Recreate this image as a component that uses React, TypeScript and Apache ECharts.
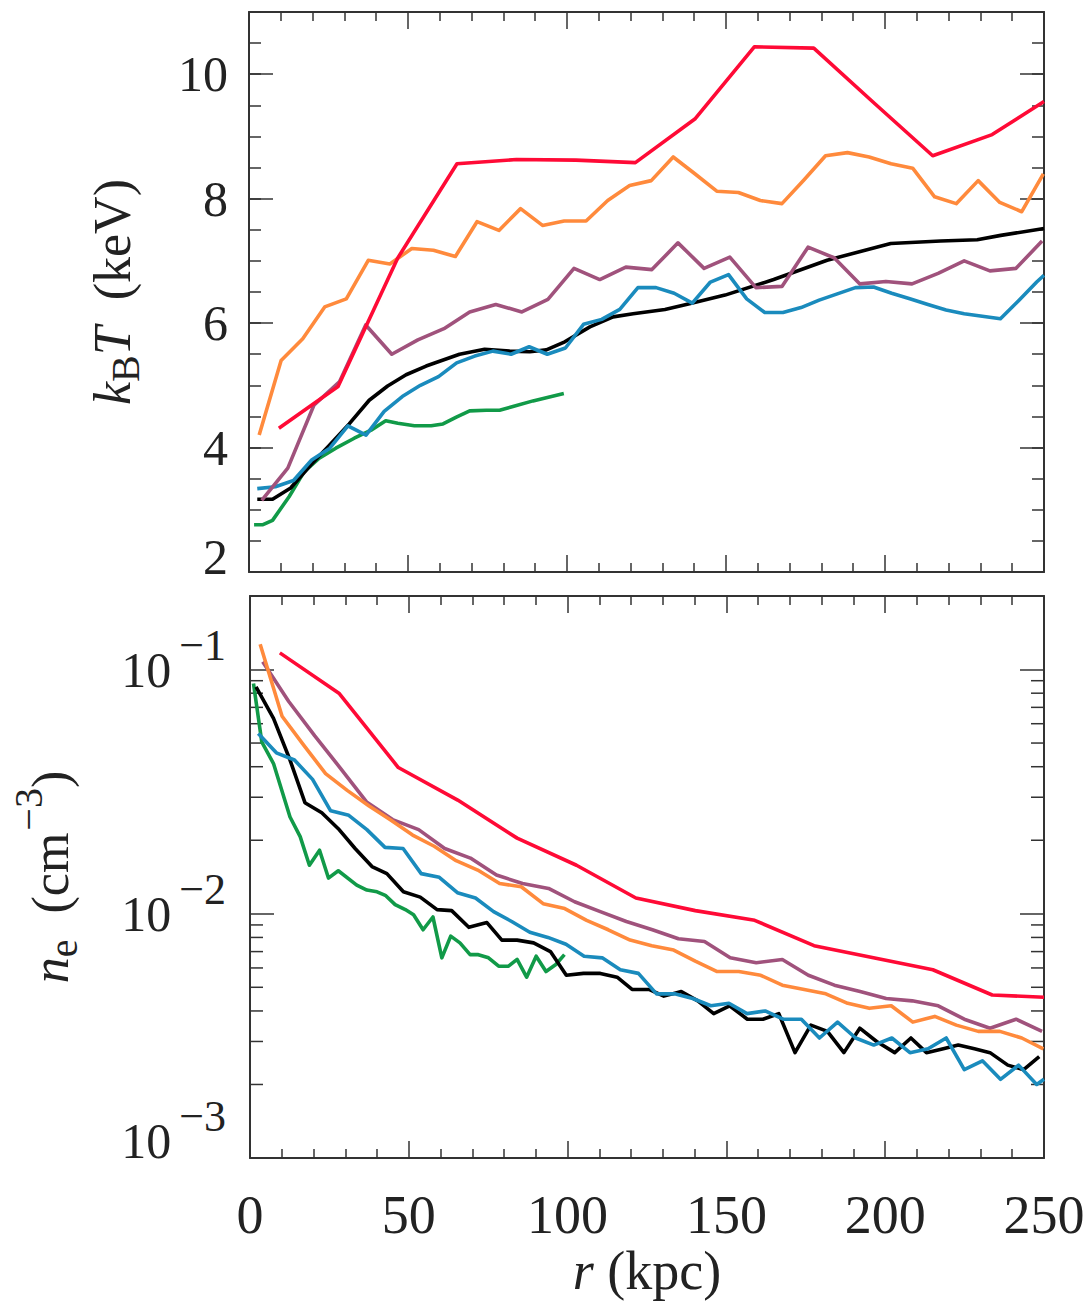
import React, { useEffect, useRef } from "react";
import * as echarts from "echarts";

// ---------- data ----------
// radius in kpc, temperature in keV, electron density in cm^-3
const redR = [9.4, 28.0, 46.7, 65.4, 84.1, 102.8, 121.5, 140.2, 158.9, 177.6, 196.3, 215.0, 233.7, 250.0];
const redT = [4.31, 4.98, 7.04, 8.56, 8.63, 8.62, 8.58, 9.28, 10.44, 10.42, 9.55, 8.69, 9.03, 9.56];
const redNe = [0.117, 0.08, 0.0397, 0.0292, 0.0204, 0.0158, 0.0116, 0.0103, 0.0094, 0.0074, 0.0066, 0.0059, 0.00465, 0.00455];

const orangeR = [3.2, 10.1, 16.9, 23.8, 30.6, 37.5, 44.3, 51.2, 58.0, 64.9, 71.7, 78.6, 85.4, 92.3, 99.1, 106.0, 112.8, 119.7, 126.5, 133.4, 140.2, 147.1, 153.9, 160.8, 167.6, 174.5, 181.3, 188.2, 195.0, 201.9, 208.7, 215.6, 222.4, 229.3, 236.1, 243.0, 249.8];
const orangeT = [4.2, 5.4, 5.75, 6.26, 6.39, 7.01, 6.95, 7.2, 7.17, 7.07, 7.63, 7.49, 7.84, 7.57, 7.64, 7.64, 7.97, 8.21, 8.29, 8.67, 8.4, 8.12, 8.1, 7.97, 7.92, 8.3, 8.69, 8.74, 8.67, 8.56, 8.49, 8.03, 7.92, 8.29, 7.94, 7.79, 8.4];
const orangeNe = [0.127, 0.0644, 0.049, 0.0375, 0.032, 0.0276, 0.0242, 0.021, 0.0189, 0.0165, 0.0151, 0.0133, 0.0129, 0.011, 0.0105, 0.0094, 0.0086, 0.0078, 0.0074, 0.0071, 0.0064, 0.0058, 0.0058, 0.0056, 0.0051, 0.0049, 0.0047, 0.0043, 0.0041, 0.0042, 0.0036, 0.0038, 0.0035, 0.0033, 0.0033, 0.0031, 0.0028];

const purpleR = [4.0, 12.2, 20.4, 28.5, 36.7, 44.9, 53.1, 61.3, 69.4, 77.6, 85.8, 94.0, 102.2, 110.3, 118.5, 126.7, 134.9, 143.1, 151.2, 159.4, 167.6, 175.8, 184.0, 192.1, 200.3, 208.5, 216.7, 224.9, 233.0, 241.2, 249.4];
const purpleT = [3.15, 3.67, 4.68, 5.06, 5.97, 5.5, 5.73, 5.91, 6.18, 6.3, 6.18, 6.38, 6.88, 6.7, 6.9, 6.86, 7.29, 6.88, 7.06, 6.57, 6.59, 7.22, 7.05, 6.63, 6.67, 6.63, 6.8, 7.0, 6.84, 6.88, 7.32];
const purpleNe = [0.1075, 0.074, 0.0535, 0.0394, 0.0287, 0.0243, 0.0221, 0.0185, 0.0169, 0.0144, 0.0133, 0.0127, 0.0112, 0.0102, 0.0093, 0.0086, 0.0079, 0.0077, 0.0066, 0.0063, 0.0065, 0.0056, 0.0051, 0.0048, 0.0045, 0.0044, 0.0042, 0.0037, 0.0034, 0.0037, 0.0033];

const blueR = [2.6, 8.3, 14.0, 19.7, 25.4, 31.1, 36.8, 42.5, 48.2, 53.9, 59.6, 65.3, 71.0, 76.7, 82.4, 88.1, 93.8, 99.5, 105.2, 110.9, 116.6, 122.3, 128.0, 133.7, 139.4, 145.1, 150.8, 156.5, 162.2, 167.9, 173.6, 179.3, 185.0, 190.7, 196.4, 202.1, 207.8, 213.5, 219.2, 224.9, 230.6, 236.3, 242.0, 247.7, 250.0];
const blueT = [3.34, 3.37, 3.47, 3.8, 3.99, 4.35, 4.2, 4.58, 4.82, 5.0, 5.14, 5.36, 5.47, 5.55, 5.5, 5.62, 5.5, 5.6, 5.98, 6.06, 6.22, 6.57, 6.57, 6.48, 6.32, 6.66, 6.78, 6.39, 6.17, 6.17, 6.25, 6.37, 6.47, 6.57, 6.58, 6.48, 6.39, 6.3, 6.21, 6.15, 6.11, 6.07, 6.36, 6.66, 6.77];
const blueNe = [0.0547, 0.0456, 0.0426, 0.0355, 0.0264, 0.0253, 0.0221, 0.0187, 0.0185, 0.0146, 0.0141, 0.0122, 0.0116, 0.0102, 0.0093, 0.0084, 0.008, 0.0075, 0.0067, 0.0066, 0.0059, 0.0057, 0.0047, 0.0047, 0.0045, 0.0042, 0.0043, 0.0039, 0.004, 0.0037, 0.0037, 0.0031, 0.0036, 0.0031, 0.0029, 0.0031, 0.0027, 0.0028, 0.0031, 0.0023, 0.0025, 0.0021, 0.0024, 0.002, 0.0021];

const blackTR = [2.6, 7.4, 13.1, 19.4, 25.0, 31.5, 37.8, 43.6, 49.4, 55.7, 66.2, 74.1, 82.0, 88.3, 93.5, 99.3, 107.2, 114.5, 120.8, 130.8, 138.5, 149.7, 165.0, 181.8, 201.8, 217.5, 229.0, 236.4, 250.0];
const blackT = [3.17, 3.17, 3.35, 3.72, 4.02, 4.38, 4.76, 4.99, 5.17, 5.31, 5.5, 5.58, 5.55, 5.54, 5.57, 5.7, 5.94, 6.1, 6.15, 6.22, 6.31, 6.45, 6.7, 7.01, 7.28, 7.32, 7.34, 7.41, 7.52];
const blackNR = [1.9, 7.4, 12.6, 17.3, 22.6, 27.8, 33.1, 38.4, 43.1, 48.3, 53.6, 58.9, 63.5, 68.9, 74.6, 79.3, 84.1, 89.3, 94.6, 99.6, 105.0, 110.3, 115.6, 120.3, 125.6, 130.3, 135.8, 141.0, 146.0, 151.0, 156.6, 161.5, 166.5, 171.6, 176.6, 181.8, 187.0, 192.0, 197.3, 203.0, 208.1, 213.0, 218.3, 223.0, 228.1, 233.0, 238.6, 243.6, 248.5];
const blackNe = [0.0849, 0.0631, 0.0426, 0.0285, 0.0259, 0.0223, 0.0185, 0.0156, 0.0146, 0.0123, 0.0117, 0.0104, 0.0103, 0.0088, 0.0092, 0.0078, 0.0078, 0.0076, 0.007, 0.0056, 0.0057, 0.0057, 0.0055, 0.0049, 0.0049, 0.0046, 0.0048, 0.0044, 0.0039, 0.0042, 0.0037, 0.0037, 0.0039, 0.0027, 0.0035, 0.0033, 0.0027, 0.0034, 0.003, 0.0027, 0.0031, 0.0027, 0.0028, 0.0029, 0.0028, 0.0027, 0.0024, 0.0023, 0.0026];

const greenTR = [1.6, 4.4, 7.4, 12.6, 17.3, 22.1, 27.3, 33.1, 38.4, 43.0, 46.8, 52.0, 57.3, 61.0, 65.2, 69.4, 74.6, 78.8, 83.0, 89.3, 99.0];
const greenT = [2.76, 2.76, 2.83, 3.21, 3.61, 3.83, 3.99, 4.15, 4.28, 4.43, 4.39, 4.35, 4.35, 4.38, 4.49, 4.59, 4.6, 4.6, 4.66, 4.75, 4.87];
const greenNR = [1.1, 3.7, 7.4, 12.6, 15.8, 18.7, 21.9, 24.7, 27.8, 33.6, 36.8, 40.0, 42.6, 45.7, 48.9, 51.5, 54.5, 57.6, 60.4, 63.2, 66.1, 69.3, 71.9, 75.1, 78.3, 81.4, 84.1, 87.1, 90.1, 93.2, 96.3, 99.0];
const greenNe = [0.0877, 0.0506, 0.0412, 0.0249, 0.0207, 0.0158, 0.0182, 0.014, 0.015, 0.0131, 0.0125, 0.0123, 0.0119, 0.0109, 0.0104, 0.0099, 0.0086, 0.0097, 0.0066, 0.0081, 0.0076, 0.0068, 0.0068, 0.0066, 0.0061, 0.0061, 0.0065, 0.0055, 0.0067, 0.0058, 0.0062, 0.0068];

// axis ranges and ticks
const rRange = [0, 250];
const rStep = 50;
const tRange = [2, 11];
const tStep = 2;
const tMinorStep = 0.5;
const neRange = [0.001, 0.2];
const neMinorTicks = [0.002, 0.003, 0.004, 0.005, 0.006, 0.007, 0.008, 0.009, 0.02, 0.03, 0.04, 0.05, 0.06, 0.07, 0.08, 0.09];

// ---------- styling ----------
const FONT = "'Liberation Serif', 'DejaVu Serif', serif";
const AX = "#333";
const TXT = "#222";
const COLORS = {
  green: "#119a48",
  black: "#000000",
  blue: "#1a8bbd",
  purple: "#a0527c",
  orange: "#ff8a3c",
  red: "#ff0a36",
};
const LW = 3.6;

const zip = (r: number[], v: number[]) => r.map((x, i) => [x, v[i]]);

const axisLineStyle = { color: AX, width: 2 };
const tickStyle = { color: AX, width: 1.5 };

function xAxisDef(gridIndex: number, position: string, withLabels: boolean) {
  const a: any = {
    type: "value",
    gridIndex,
    position,
    min: rRange[0],
    max: rRange[1],
    interval: rStep,
    axisLine: { show: true, onZero: false, lineStyle: axisLineStyle },
    axisTick: { show: true, inside: true, length: 17, lineStyle: tickStyle },
    minorTick: { show: true, splitNumber: 5, length: 9, lineStyle: tickStyle },
    splitLine: { show: false },
    minorSplitLine: { show: false },
    axisLabel: { show: false },
  };
  if (withLabels) {
    a.axisLabel = {
      show: true,
      margin: 30,
      fontSize: 54,
      fontFamily: FONT,
      color: TXT,
    };
    a.name = "{i|r} (kpc)";
    a.nameLocation = "middle";
    a.nameGap = 86;
    a.nameTextStyle = {
      fontSize: 54,
      fontFamily: FONT,
      color: TXT,
      rich: { i: { fontSize: 54, fontFamily: FONT, fontStyle: "italic", color: TXT } },
    };
  }
  return a;
}

function tAxisDef(position: string, step: number, tickLen: number, withLabels: boolean, showLine: boolean) {
  const a: any = {
    type: "value",
    gridIndex: 0,
    position,
    min: tRange[0],
    max: tRange[1],
    interval: step,
    axisLine: { show: showLine, onZero: false, lineStyle: axisLineStyle },
    axisTick: { show: true, inside: true, length: tickLen, lineStyle: tickStyle },
    splitLine: { show: false },
    axisLabel: { show: false },
  };
  if (withLabels) {
    a.axisLabel = {
      show: true,
      margin: 21,
      fontSize: 50,
      fontFamily: FONT,
      color: TXT,
      showMaxLabel: false,
      formatter: (v: number) => {
        if (Math.abs(v % tStep) > 1e-9) return "";
        if (v === tRange[0]) return "{lo|" + v + "}";
        return String(v);
      },
      rich: {
        lo: { fontSize: 50, fontFamily: FONT, color: TXT, padding: [0, 0, 30, 0] },
      },
    };
    a.name = "{i|k}{sub|B}{i|T}  (keV)";
    a.nameLocation = "middle";
    a.nameRotate = 90;
    a.nameGap = 104;
    a.nameTextStyle = {
      fontSize: 52,
      fontFamily: FONT,
      color: TXT,
      rich: {
        i: { fontSize: 52, fontFamily: FONT, fontStyle: "italic", color: TXT },
        sub: { fontSize: 40, fontFamily: FONT, color: TXT, padding: [26, 0, 0, 0] },
      },
    };
  }
  return a;
}

function neAxisDef(position: string, withLabels: boolean) {
  const a: any = {
    type: "log",
    logBase: 10,
    gridIndex: 1,
    position,
    min: neRange[0],
    max: neRange[1],
    axisLine: { show: true, onZero: false, lineStyle: axisLineStyle },
    axisTick: { show: true, inside: true, length: 24, lineStyle: tickStyle },
    splitLine: { show: false },
    axisLabel: { show: false },
  };
  if (withLabels) {
    a.axisLabel = {
      show: true,
      margin: 24,
      fontSize: 50,
      fontFamily: FONT,
      color: TXT,
      formatter: (v: number) => {
        const e = Math.log10(v);
        const r = Math.round(e);
        if (Math.abs(e - r) > 1e-6) return "";
        if (v <= neRange[0] * 1.0001) return "{b3|10}{s3|\u2212" + -r + "}";
        return "{b|10}{s|\u2212" + -r + "}";
      },
      rich: {
        b: { fontSize: 50, fontFamily: FONT, color: TXT },
        s: { fontSize: 44, fontFamily: FONT, color: TXT, padding: [0, 0, 48, 8] },
        b3: { fontSize: 50, fontFamily: FONT, color: TXT, padding: [0, 0, 34, 0] },
        s3: { fontSize: 44, fontFamily: FONT, color: TXT, padding: [0, 0, 84, 8] },
      },
    };
    a.name = "{i|n}{sub|e}  (cm{sup|\u22123})";
    a.nameLocation = "middle";
    a.nameRotate = 90;
    a.nameGap = 158;
    a.nameTextStyle = {
      fontSize: 52,
      fontFamily: FONT,
      color: TXT,
      rich: {
        i: { fontSize: 52, fontFamily: FONT, fontStyle: "italic", color: TXT },
        sub: { fontSize: 40, fontFamily: FONT, color: TXT, padding: [26, 0, 0, 0] },
        sup: { fontSize: 40, fontFamily: FONT, color: TXT, padding: [0, 0, 44, 2] },
      },
    };
  }
  return a;
}

function lineSeries(name: string, color: string, data: number[][], xi: number, yi: number) {
  return {
    name,
    type: "line",
    xAxisIndex: xi,
    yAxisIndex: yi,
    data,
    showSymbol: false,
    symbol: "none",
    smooth: false,
    lineStyle: { color, width: LW, join: "round" },
    emphasis: { disabled: true },
  };
}

export default function App() {
  const ref = useRef<HTMLDivElement>(null);
  useEffect(() => {
    if (!ref.current) return;
    const chart = echarts.init(ref.current, null, { renderer: "svg" });
    const option: any = {
      animation: false,
      backgroundColor: "#ffffff",
      grid: [
        { left: 249, top: 12, width: 795, height: 560 },
        { left: 249, top: 596, width: 795, height: 562 },
      ],
      xAxis: [
        xAxisDef(0, "bottom", false),
        xAxisDef(0, "top", false),
        xAxisDef(1, "bottom", true),
        xAxisDef(1, "top", false),
      ],
      yAxis: [
        tAxisDef("left", tStep, 24, true, true),
        tAxisDef("left", tMinorStep, 12, false, false),
        tAxisDef("right", tStep, 24, false, true),
        tAxisDef("right", tMinorStep, 12, false, false),
        neAxisDef("left", true),
        neAxisDef("right", false),
      ],
      series: [
        lineSeries("green T", COLORS.green, zip(greenTR, greenT), 0, 0),
        lineSeries("black T", COLORS.black, zip(blackTR, blackT), 0, 0),
        lineSeries("blue T", COLORS.blue, zip(blueR, blueT), 0, 0),
        lineSeries("purple T", COLORS.purple, zip(purpleR, purpleT), 0, 0),
        lineSeries("orange T", COLORS.orange, zip(orangeR, orangeT), 0, 0),
        lineSeries("red T", COLORS.red, zip(redR, redT), 0, 0),
        lineSeries("green ne", COLORS.green, zip(greenNR, greenNe), 2, 4),
        lineSeries("black ne", COLORS.black, zip(blackNR, blackNe), 2, 4),
        lineSeries("blue ne", COLORS.blue, zip(blueR, blueNe), 2, 4),
        lineSeries("purple ne", COLORS.purple, zip(purpleR, purpleNe), 2, 4),
        lineSeries("orange ne", COLORS.orange, zip(orangeR, orangeNe), 2, 4),
        lineSeries("red ne", COLORS.red, zip(redR, redNe), 2, 4),
        {
          type: "custom",
          xAxisIndex: 2,
          yAxisIndex: 4,
          silent: true,
          clip: false,
          data: neMinorTicks.map((v) => [rRange[0], v]),
          renderItem: (params: any, api: any) => {
            const v = api.value(1);
            const l = api.coord([rRange[0], v]);
            const r = api.coord([rRange[1], v]);
            return {
              type: "group",
              children: [
                { type: "line", shape: { x1: l[0], y1: l[1], x2: l[0] + 13, y2: l[1] }, style: { stroke: AX, lineWidth: 1.5 } },
                { type: "line", shape: { x1: r[0] - 13, y1: r[1], x2: r[0], y2: r[1] }, style: { stroke: AX, lineWidth: 1.5 } },
              ],
            };
          },
        },
      ],
    };
    chart.setOption(option);
    return () => chart.dispose();
  }, []);
  return (
    <div
      ref={ref}
      style={{ position: "absolute", left: 0, top: 0, width: 1091, height: 1304, background: "#fff" }}
    />
  );
}
